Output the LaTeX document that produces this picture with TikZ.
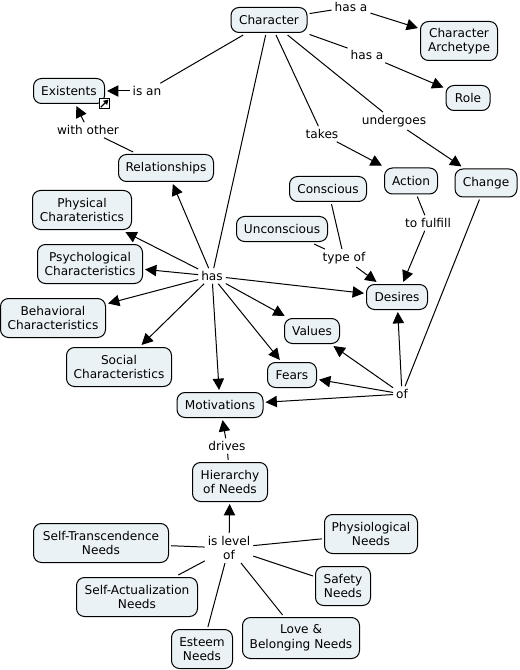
\documentclass[tikz,border=0pt]{standalone}
\usepackage{fontspec}
\setmainfont{DejaVu Sans}
\usetikzlibrary{arrows.meta, positioning}
\begin{document}
\begin{tikzpicture}[
    x=0.75pt, y=-0.75pt,
    box/.style={rectangle, draw, rounded corners=6pt, fill=boxfill, line width=0.75pt, inner sep=0pt, outer sep=1.9pt, align=center, font=\fontsize{9.1}{11}\selectfont, minimum height=18.75pt},
    tall/.style={box, minimum height=29.25pt},
    link/.style={inner sep=0.8pt, outer sep=1.5pt, align=center, font=\fontsize{9.1}{11}\selectfont},
    line/.style={line width=0.75pt},
    arr/.style={line, -{Triangle[length=8.5pt, width=8.5pt]}}
]
\definecolor{boxfill}{HTML}{EBF2F5}
\useasboundingbox (0,0) rectangle (519,670);
% Concepts
\node[box, minimum width=57pt] (character) at (269,20) {Character};
\node[tall, minimum width=57.75pt] (archetype) at (459,41) {Character\\Archetype};
\node[box, minimum width=33pt] (role) at (468,98) {Role};
\node[box, minimum width=53.25pt] (existents) at (69,91) {Existents};
\node[box, minimum width=71.25pt, minimum height=20.25pt] (relationships) at (166,168) {Relationships};
\node[tall, minimum width=74.25pt] (physical) at (82,210) {Physical\\Charateristics};
\node[tall, minimum width=78.75pt] (psychological) at (90,264) {Psychological\\Characteristics};
\node[tall, minimum width=78.75pt] (behavioral) at (53,318) {Behavioral\\Characteristics};
\node[tall, minimum width=78.75pt] (social) at (119,367) {Social\\Characteristics};
\node[box, minimum width=64.5pt] (motivations) at (220,405) {Motivations};
\node[box, minimum width=57.75pt] (conscious) at (328,189) {Conscious};
\node[box, minimum width=68.25pt] (unconscious) at (282,229) {Unconscious};
\node[box, minimum width=39.75pt, minimum height=19.5pt] (action) at (411,181) {Action};
\node[box, minimum width=46.5pt, minimum height=21pt] (change) at (486,183) {Change};
\node[box, minimum width=45.75pt] (desires) at (397,297) {Desires};
\node[box, minimum width=41.25pt] (values) at (312,331) {Values};
\node[box, minimum width=36.75pt] (fears) at (292,375) {Fears};
\node[tall, minimum width=56.25pt] (hierarchy) at (230,482) {Hierarchy\\of Needs};
\node[tall, minimum width=101.25pt] (transcendence) at (101,543) {Self-Transcendence\\Needs};
\node[tall, minimum width=90.75pt] (actualization) at (137,597) {Self-Actualization\\Needs};
\node[tall, minimum width=45.75pt] (esteem) at (202,649) {Esteem\\Needs};
\node[tall, minimum width=87.75pt, minimum height=30.75pt] (love) at (301,638) {Love \&\\Belonging Needs};
\node[tall, minimum width=41.25pt] (safety) at (343,586) {Safety\\Needs};
\node[tall, minimum width=69.75pt] (physiological) at (371,534) {Physiological\\Needs};

% Link phrases
\node[link] (isan) at (147,91) {is an};
\node[link] (withother) at (88,130) {with other};
\node[link] (hasa1) at (351,7) {has a};
\node[link] (hasa2) at (367,55) {has a};
\node[link] (undergoes) at (394,121) {undergoes};
\node[link] (takes) at (322,134) {takes};
\node[link] (tofulfill) at (428,223) {to fulfill};
\node[link] (typeof) at (344,258) {type of};
\node[link] (has) at (212,276) {has};
\node[link] (of) at (402,394) {of};
\node[link] (drives) at (227,446) {drives};
\node[link] (islevel) at (229,548) {is level\\of};

% Top part
\draw[line] (character) -- (isan);
\draw[arr] (isan) -- (existents);
\draw[line] (relationships) -- (withother);
\draw[arr] (withother) -- (existents);
\draw[line] (character) -- (hasa1);
\draw[arr] (hasa1) -- (archetype);
\draw[line] (character) -- (hasa2);
\draw[arr] (hasa2) -- (role);
\draw[line] (character) -- (undergoes);
\draw[arr] (undergoes) -- (change);
\draw[line] (character) -- (takes);
\draw[arr] (takes) -- (action);
\draw[line] (character) -- (has);

% Middle part
\draw[arr] (has) -- (relationships);
\draw[arr] (has) -- (physical);
\draw[arr] (has) -- (psychological);
\draw[arr] (has) -- (behavioral);
\draw[arr] (has) -- (social);
\draw[arr] (has) -- (motivations);
\draw[arr] (has) -- (fears);
\draw[arr] (has) -- (values);
\draw[arr] (has) -- (desires);
\draw[line] (action) -- (tofulfill);
\draw[arr] (tofulfill) -- (desires);
\draw[line] (conscious) -- (typeof);
\draw[line] (unconscious) -- (typeof);
\draw[arr] (typeof) -- (desires);
\draw[line] (change) -- (of);
\draw[arr] (of) -- (desires);
\draw[arr] (of) -- (values);
\draw[arr] (of) -- (fears);
\draw[arr] (of) -- (motivations);

% Needs
\draw[line] (hierarchy) -- (drives);
\draw[arr] (drives) -- (motivations);
\draw[arr] (islevel) -- (hierarchy);
\draw[line] (transcendence) -- (islevel);
\draw[line] (actualization) -- (islevel);
\draw[line] (esteem) -- (islevel);
\draw[line] (love) -- (islevel);
\draw[line] (safety) -- (islevel);
\draw[line] (physiological) -- (islevel);

% Link icon on Existents
\node[rectangle, draw, fill=white, line width=0.75pt, minimum size=8pt, inner sep=0pt] (icon) at (104.5,103.5) {};
\draw[line width=0.9pt, -{Triangle[length=3.6pt, width=4pt]}] ([shift={(1.6pt,1.6pt)}]icon.south west) -- ([shift={(-1.4pt,-1.4pt)}]icon.north east);
\end{tikzpicture}
\end{document}
